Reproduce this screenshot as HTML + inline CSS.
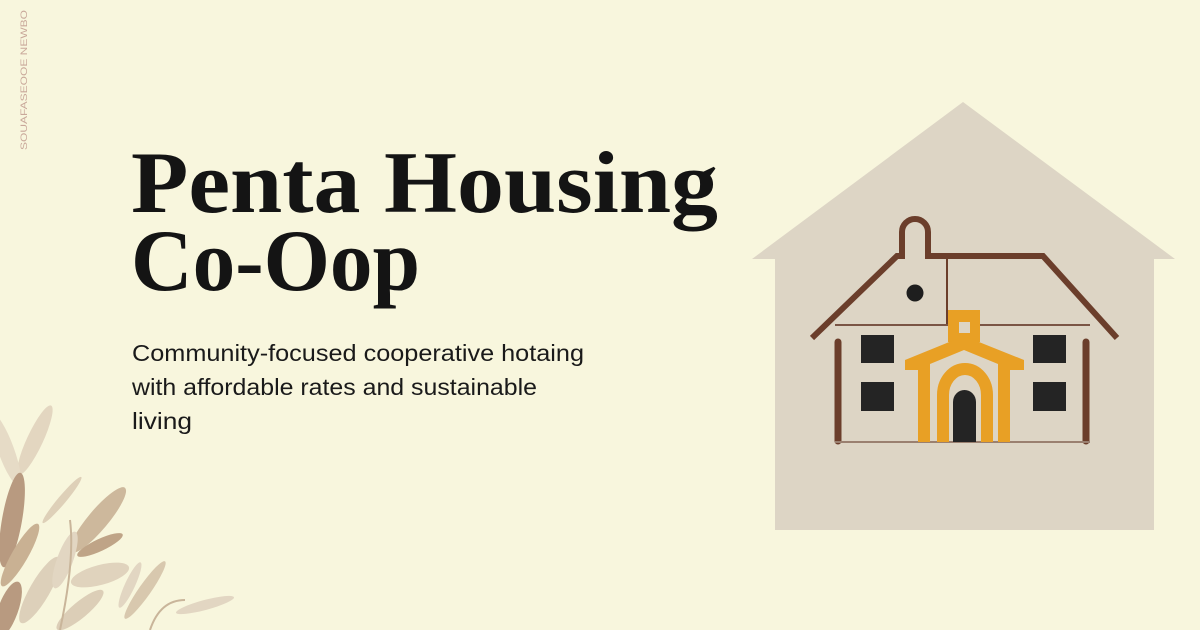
<!DOCTYPE html>
<html><head><meta charset="utf-8"><style>
html,body{margin:0;padding:0;background:#f8f6dd;}
svg{display:block}
</style></head><body>
<svg width="1200" height="630" viewBox="0 0 1200 630" xmlns="http://www.w3.org/2000/svg">
<rect x="0" y="0" width="1200" height="630" fill="#f8f6dd"/>
<text transform="translate(27,150) rotate(-90)" font-family="Liberation Sans, sans-serif" font-size="9" fill="#c9a89a" textLength="140" lengthAdjust="spacingAndGlyphs">SOUAFASEOOE NEWBO</text>
<g>
<ellipse cx="35" cy="440" rx="8" ry="38" transform="rotate(25 35 440)" fill="#e3d6c0"/>
<ellipse cx="6" cy="450" rx="8" ry="38" transform="rotate(-20 6 450)" fill="#e6dbc6"/>
<ellipse cx="12" cy="520" rx="10" ry="48" transform="rotate(10 12 520)" fill="#b89a80"/>
<ellipse cx="20" cy="555" rx="8" ry="36" transform="rotate(30 20 555)" fill="#c9b193"/>
<ellipse cx="62" cy="500" rx="4" ry="30" transform="rotate(40 62 500)" fill="#ded0b8"/>
<ellipse cx="98" cy="520" rx="10" ry="42" transform="rotate(40 98 520)" fill="#cdb89c"/>
<ellipse cx="100" cy="545" rx="6" ry="25" transform="rotate(65 100 545)" fill="#bfa487"/>
<ellipse cx="40" cy="590" rx="10" ry="38" transform="rotate(30 40 590)" fill="#ddd0ba"/>
<ellipse cx="65" cy="560" rx="8" ry="30" transform="rotate(20 65 560)" fill="#e2d6c2"/>
<ellipse cx="100" cy="575" rx="10" ry="30" transform="rotate(75 100 575)" fill="#e0d3bd"/>
<ellipse cx="80" cy="610" rx="8" ry="30" transform="rotate(50 80 610)" fill="#dcceb7"/>
<ellipse cx="130" cy="585" rx="5" ry="25" transform="rotate(25 130 585)" fill="#e2d6c2"/>
<ellipse cx="145" cy="590" rx="6" ry="35" transform="rotate(35 145 590)" fill="#d8c8ae"/>
<ellipse cx="205" cy="605" rx="5" ry="30" transform="rotate(75 205 605)" fill="#e2d6c2"/>
<ellipse cx="8" cy="610" rx="10" ry="30" transform="rotate(20 8 610)" fill="#b89a80"/>
<path d="M60 630 Q 75 560 70 520 M150 630 Q 160 600 185 600" stroke="#c9b59a" stroke-width="2" fill="none"/>
</g>
<text x="131" y="212" font-family="Liberation Serif, serif" font-weight="bold" font-size="88" fill="#141414" textLength="587" lengthAdjust="spacingAndGlyphs">Penta Housing</text>
<text x="131" y="290" font-family="Liberation Serif, serif" font-weight="bold" font-size="88" fill="#141414" textLength="289" lengthAdjust="spacingAndGlyphs">Co-Oop</text>
<g font-family="Liberation Sans, sans-serif" font-size="23" fill="#1a1a1a">
<text x="132" y="361" textLength="452" lengthAdjust="spacingAndGlyphs">Community-focused cooperative hotaing</text>
<text x="132" y="395" textLength="405" lengthAdjust="spacingAndGlyphs">with affordable rates and sustainable</text>
<text x="132" y="429" textLength="60" lengthAdjust="spacingAndGlyphs">living</text>
</g>
<g>
<polygon points="963,102 1175,259 1154,259 1154,530 775,530 775,259 752,259" fill="#ddd5c5"/>
<path d="M812,338 L897,256 L902,256 L902,232 A13,13 0 0 1 928,232 L928,256 L1043,256 L1117,338" stroke="#6b3e2b" stroke-width="6" fill="none"/>
<line x1="947" y1="258" x2="947" y2="325" stroke="#6b3e2b" stroke-width="2"/>
<line x1="835" y1="325" x2="1090" y2="325" stroke="#7a5545" stroke-width="2"/>
<circle cx="915" cy="293" r="8.5" fill="#1e1e1e"/>
<line x1="838" y1="342" x2="838" y2="441" stroke="#6b3e2b" stroke-width="7" stroke-linecap="round"/>
<line x1="1086" y1="342" x2="1086" y2="441" stroke="#6b3e2b" stroke-width="7" stroke-linecap="round"/>
<line x1="835" y1="442" x2="1090" y2="442" stroke="#9a8070" stroke-width="2"/>
<rect x="861" y="335" width="33" height="28" fill="#242424"/>
<rect x="861" y="382" width="33" height="29" fill="#242424"/>
<rect x="1033" y="335" width="33" height="28" fill="#242424"/>
<rect x="1033" y="382" width="33" height="29" fill="#242424"/>
<rect x="948" y="310" width="32" height="32" fill="#e8a025"/>
<rect x="959" y="322" width="11" height="11" fill="#ddd5c5"/>
<polygon points="905,360 964,336 1024,360 1024,370 1010,370 1010,442 998,442 998,364 964,350 930,364 930,442 918,442 918,370 905,370" fill="#e8a025"/>
<path d="M943,442 L943,395 A22,26 0 0 1 987,395 L987,442" stroke="#e8a025" stroke-width="12" fill="none"/>
<path d="M953,442 L953,402 A11.5,12 0 0 1 976,402 L976,442 Z" fill="#242424"/>
</g>
</svg>
</body></html>
